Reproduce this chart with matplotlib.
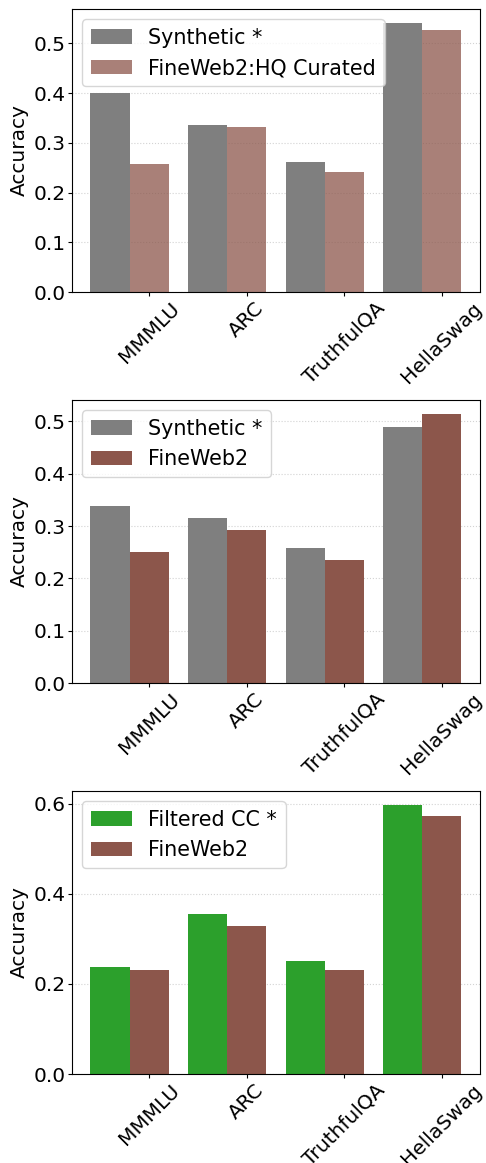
import numpy as np
import matplotlib
matplotlib.use('Agg')
import matplotlib.pyplot as plt
from matplotlib.ticker import MultipleLocator

benchmarks = ['MMMLU', 'ARC', 'TruthfulQA', 'HellaSwag']

synthetic_a = [0.400, 0.335, 0.261, 0.542]
curated_hq = [0.257, 0.332, 0.241, 0.528]

synthetic_b = [0.339, 0.315, 0.258, 0.489]
fineweb2_b = [0.250, 0.292, 0.235, 0.515]

filtered_cc = [0.238, 0.356, 0.251, 0.598]
fineweb2_c = [0.231, 0.329, 0.231, 0.573]

panels = [
    (synthetic_a, curated_hq, 'Synthetic *', 'FineWeb2:HQ Curated', 'tab:gray', 'tab:brown', 0.75, 0.1),
    (synthetic_b, fineweb2_b, 'Synthetic *', 'FineWeb2', 'tab:gray', 'tab:brown', 1.0, 0.1),
    (filtered_cc, fineweb2_c, 'Filtered CC *', 'FineWeb2', 'tab:green', 'tab:brown', 1.0, 0.2),
]

plt.rcParams['font.size'] = 14.5
plt.rcParams['xtick.major.size'] = 2.8
plt.rcParams['ytick.major.size'] = 2.8
plt.rcParams['xtick.major.pad'] = 1.8
plt.rcParams['ytick.major.pad'] = 1.8

fig = plt.figure(figsize=(4.86, 11.63), dpi=100)
bottoms = [0.7489, 0.4127, 0.0765]
width = 0.4
x = np.arange(len(benchmarks))

for (a, b, la, lb, ca, cb, alpha, step), bot in zip(panels, bottoms):
    ax = fig.add_axes([0.148, bot, 0.8395, 0.2433])
    ax.bar(x, a, width, color=ca, label=la)
    ax.bar(x + width, b, width, color=cb, alpha=alpha, label=lb)
    ax.set_xticks(x + width)
    ax.set_xticklabels(benchmarks, rotation=45)
    ax.yaxis.set_major_locator(MultipleLocator(step))
    ax.set_ylabel('Accuracy', labelpad=3)
    ax.set_axisbelow(True)
    ax.yaxis.grid(True, linestyle=':', color='lightgray', linewidth=0.8)
    ax.legend(loc='upper left', fontsize=14.9)

fig.savefig('out.png', dpi=100)
